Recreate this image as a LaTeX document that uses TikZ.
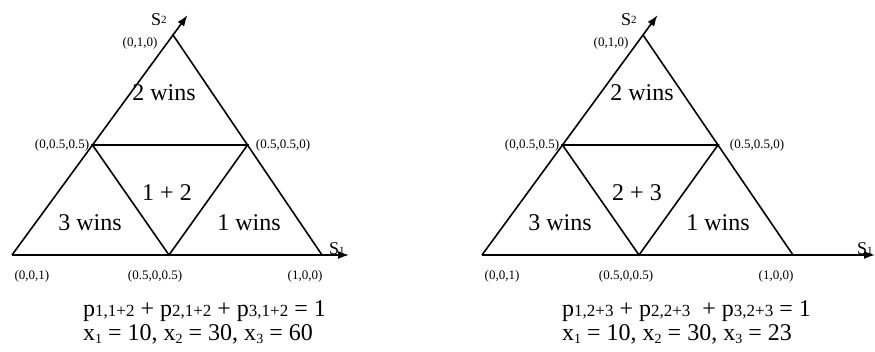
\documentclass[tikz,border=0pt]{standalone}
\usepackage{fontspec}
\setmainfont{Liberation Serif}
\usetikzlibrary{arrows.meta,calc}
\newcommand\psub[1]{{\fontsize{17}{17}\selectfont #1}}
\newcommand\xsub[1]{\raisebox{-3pt}{\fontsize{14}{14}\selectfont #1}}
\newcommand\axsub[1]{{\fontsize{11}{11}\selectfont #1}}
\begin{document}
\begin{tikzpicture}[x=1pt,y=-1pt,
  edge/.style={line width=1.6pt, line join=miter},
  axisarrow/.style={line width=1.6pt,-{Latex[length=11pt,width=8pt]}},
  big/.style={font=\fontsize{24}{26}\selectfont, anchor=base, inner sep=0pt},
  small/.style={font=\fontsize{13}{14}\selectfont, anchor=base, inner sep=0pt},
  eq/.style={font=\fontsize{24}{26}\selectfont, anchor=base west, inner sep=0pt},
  axlabel/.style={font=\fontsize{18}{20}\selectfont, anchor=base west, inner sep=0pt}]
\useasboundingbox (0,0) rectangle (875,351);

% ---------- left triangle ----------
\coordinate (L0) at (12,255);
\coordinate (L1) at (322,255);
\coordinate (L2) at (173,35);
\coordinate (Lm02) at ($(L0)!0.5!(L2)$);
\coordinate (Lm12) at ($(L1)!0.5!(L2)$);
\coordinate (Lm01) at (169,255);
\coordinate (LS2) at ($(L0)!1.09!(L2)$);
\coordinate (LS1) at (349,255);
\draw[edge] (L0) -- (L2) -- (L1);
\draw[axisarrow] (L0) -- (LS1);
\draw[axisarrow] (L2) -- (LS2);
\draw[edge] (Lm02) -- (Lm12) -- (Lm01) -- cycle;

\node[axlabel] (LS2lab) at (151,25) {S\raisebox{2pt}{\axsub{2}}};
\node[axlabel] (LS1lab) at (329,254) {S\axsub{1}};

\node[small] (Lv2) at (140,46) {(0,1,0)};
\node[small] (Lv02) at (62,148) {(0,0.5,0.5)};
\node[small] (Lv12) at (283,148) {(0.5,0.5,0)};
\node[small] (Lv0) at (32,279) {(0,0,1)};
\node[small] (Lv01) at (155,279) {(0.5,0,0.5)};
\node[small] (Lv1) at (305,279) {(1,0,0)};

\node[big] (Lw2) at (164,100) {2 wins};
\node[big] (Lmix) at (167,200) {1 + 2};
\node[big] (Lw3) at (90,230) {3 wins};
\node[big] (Lw1) at (249,230) {1 wins};

\node[eq] (Leq1) at (83,316) {p\psub{1,1+2} + p\psub{2,1+2} + p\psub{3,1+2} = 1};
\node[eq] (Leq2) at (83,340) {x\xsub{1} = 10, x\xsub{2} = 30, x\xsub{3} = 60};

% ---------- right triangle ----------
\coordinate (R0) at (482,255);
\coordinate (R1) at (793,255);
\coordinate (R2) at (643,35);
\coordinate (Rm02) at ($(R0)!0.5!(R2)$);
\coordinate (Rm12) at ($(R1)!0.5!(R2)$);
\coordinate (Rm01) at (639,255);
\coordinate (RS2) at ($(R0)!1.09!(R2)$);
\coordinate (RS1) at (875,255);
\draw[edge] (R0) -- (R2) -- (R1);
\draw[axisarrow] (R0) -- (RS1);
\draw[axisarrow] (R2) -- (RS2);
\draw[edge] (Rm02) -- (Rm12) -- (Rm01) -- cycle;

\node[axlabel] (RS2lab) at (621,25) {S\raisebox{2pt}{\axsub{2}}};
\node[axlabel] (RS1lab) at (857,254) {S\axsub{1}};

\node[small] (Rv2) at (611,46) {(0,1,0)};
\node[small] (Rv02) at (532,148) {(0,0.5,0.5)};
\node[small] (Rv12) at (757,148) {(0.5,0.5,0)};
\node[small] (Rv0) at (502,279) {(0,0,1)};
\node[small] (Rv01) at (626,279) {(0.5,0,0.5)};
\node[small] (Rv1) at (776,279) {(1,0,0)};

\node[big] (Rw2) at (642,100) {2 wins};
\node[big] (Rmix) at (637,200) {2 + 3};
\node[big] (Rw3) at (560,230) {3 wins};
\node[big] (Rw1) at (718,230) {1 wins};

\node[eq] (Req1) at (562,316) {p\psub{1,2+3} + p\psub{2,2+3}\ \ + p\psub{3,2+3} = 1};
\node[eq] (Req2) at (562,340) {x\xsub{1} = 10, x\xsub{2} = 30, x\xsub{3} = 23};
\end{tikzpicture}
\end{document}
